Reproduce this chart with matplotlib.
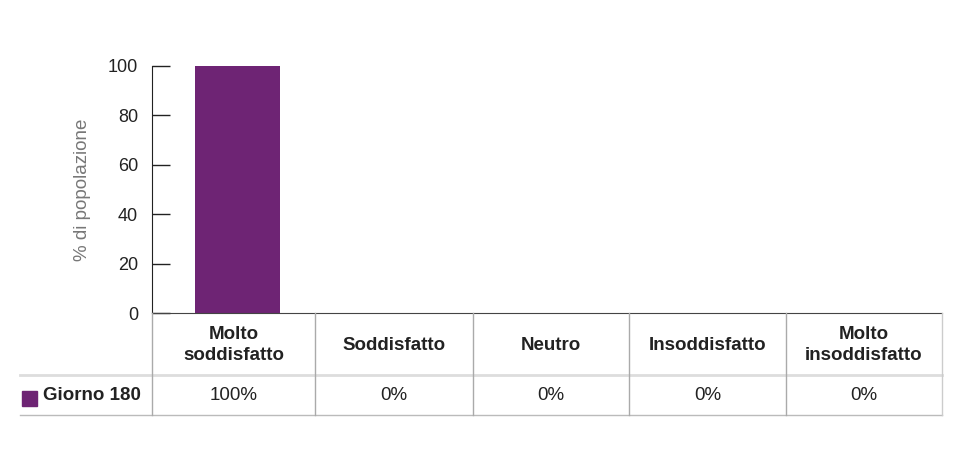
import numpy as np
import matplotlib
matplotlib.use("Agg")
import matplotlib.pyplot as plt
from matplotlib.lines import Line2D
from matplotlib.patches import Rectangle

plt.rcParams['font.family'] = ['Liberation Sans', 'DejaVu Sans']

categories = ["Molto\nsoddisfatto", "Soddisfatto", "Neutro", "Insoddisfatto", "Molto\ninsoddisfatto"]
series_name = "Giorno 180"
values = [100, 0, 0, 0, 0]
yticks = [0, 20, 40, 60, 80, 100]

purple = "#6E2474"
W, H = 960, 453

fig = plt.figure(figsize=(W / 100, H / 100), dpi=100)


def fx(px):
    return px / W


def fy(py):
    return 1 - py / H


ax = fig.add_axes([fx(152), fy(313), fx(942) - fx(152), fy(66) - fy(313)])
x = np.arange(len(values)) + 0.54
ax.bar(x, values, width=0.54, color=purple)
ax.set_xlim(0, len(values))
ax.set_ylim(0, 100)
ax.set_yticks(yticks)
ax.set_xticks([])
ax.tick_params(axis='y', direction='in', length=13, width=1, color="#222222",
               labelsize=13, labelcolor="#222222", pad=10)
for s in ["top", "right"]:
    ax.spines[s].set_visible(False)
ax.spines["left"].set_color("#222222")
ax.spines["bottom"].set_color("#444444")
ax.set_ylabel("% di popolazione", fontsize=13.5, color="#777777", labelpad=12)

# table below the chart
cols = [152, 315, 473, 629, 786, 942]
top, mid, bot = 313, 375, 415
fig.add_artist(Line2D([fx(20), fx(942)], [fy(mid), fy(mid)], color="#dddddd", lw=2))
fig.add_artist(Line2D([fx(20), fx(942)], [fy(bot), fy(bot)], color="#bbbbbb", lw=1))
for i, c in enumerate(cols):
    col = "#cccccc" if i == len(cols) - 1 else "#aaaaaa"
    fig.add_artist(Line2D([fx(c), fx(c)], [fy(top), fy(bot)], color=col, lw=1))

for i, (cat, v) in enumerate(zip(categories, values)):
    cx = (cols[i] + cols[i + 1]) / 2
    fig.text(fx(cx), fy((top + mid) / 2 + 1), cat, ha="center", va="center",
             fontsize=13.5, fontweight="bold", color="#222222", linespacing=1.25)
    fig.text(fx(cx), fy((mid + bot) / 2), f"{v}%", ha="center", va="center",
             fontsize=13.5, color="#222222")

fig.add_artist(Rectangle((fx(22), fy(406)), fx(15), fy(391) - fy(406), color=purple,
                         transform=fig.transFigure))
fig.text(fx(43), fy((mid + bot) / 2), series_name, ha="left", va="center",
         fontsize=13.5, fontweight="bold", color="#222222")

fig.savefig("out.png", dpi=100)
